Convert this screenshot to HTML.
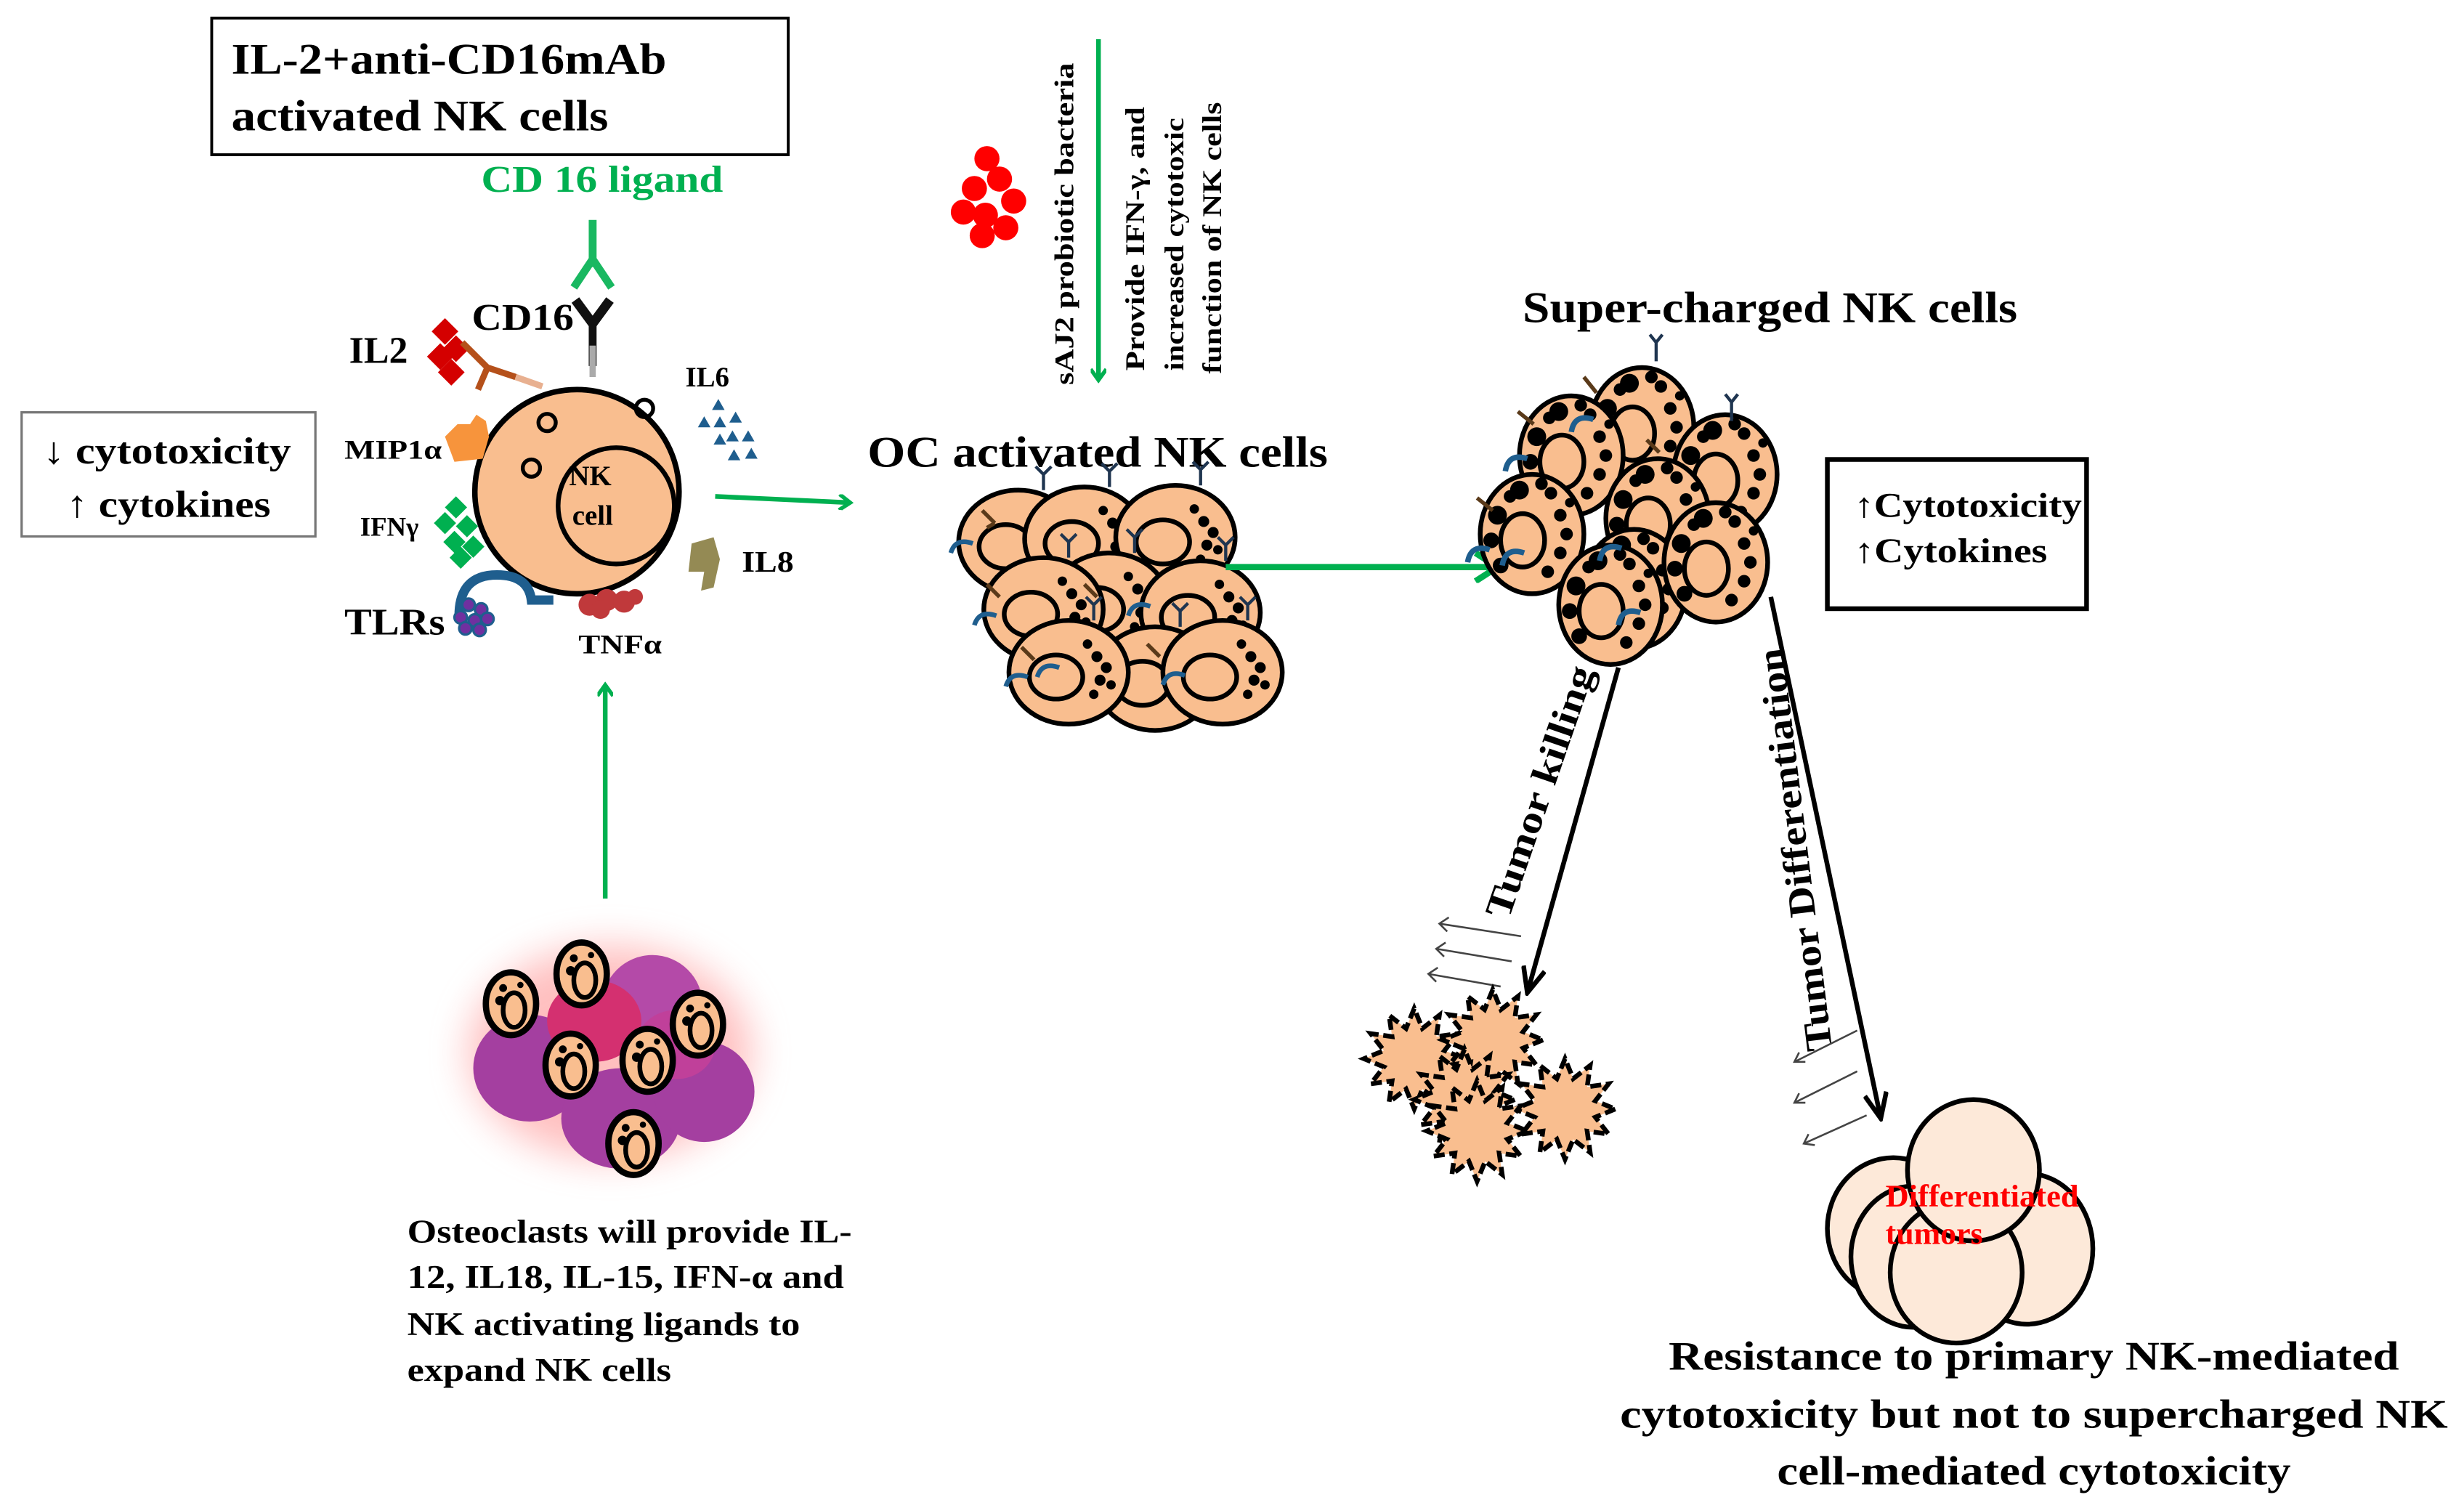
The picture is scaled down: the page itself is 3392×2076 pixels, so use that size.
<!DOCTYPE html>
<html><head><meta charset="utf-8"><style>
html,body{margin:0;padding:0;background:#fff;}
svg{display:block;}
text{font-family:"Liberation Serif",serif;font-weight:bold;}
</style></head><body>
<svg width="3392" height="2076" viewBox="0 0 1568 960" xmlns="http://www.w3.org/2000/svg">
<defs>
<marker id="ga" markerWidth="10" markerHeight="10" refX="8" refY="5" orient="auto" markerUnits="userSpaceOnUse">
<path d="M1,0 L8,5 L1,10" fill="none" stroke="#00b050" stroke-width="2.5"/></marker>
<marker id="ga2" markerWidth="20" markerHeight="20" refX="16" refY="10" orient="auto" markerUnits="userSpaceOnUse">
<path d="M2,1 L16,10 L2,19" fill="none" stroke="#00b050" stroke-width="4"/></marker>
<marker id="ba" markerWidth="20" markerHeight="16" refX="18" refY="8" orient="auto" markerUnits="userSpaceOnUse">
<path d="M2,1 L18,8 L2,15" fill="none" stroke="#000" stroke-width="3"/></marker>
<filter id="blur" x="-50%" y="-50%" width="200%" height="200%"><feGaussianBlur stdDeviation="12"/></filter>
<g id="oc">
<ellipse cx="0" cy="0" rx="38" ry="33" fill="#f9be8f" stroke="#000" stroke-width="3"/>
<ellipse cx="-8" cy="3" rx="17" ry="14" fill="none" stroke="#000" stroke-width="3"/>
<circle cx="18" cy="-10" r="3.5"/><circle cx="24" cy="-3" r="3.5"/><circle cx="20" cy="5" r="3.5"/><circle cx="27" cy="8" r="3"/><circle cx="16" cy="14" r="3"/><circle cx="12" cy="-18" r="3"/>
<path d="M16,-33 v-10 M16,-43 l-5,-5 M16,-43 l5,-5" stroke="#1f3550" stroke-width="2" fill="none"/>
</g>
<g id="sc">
<ellipse cx="0" cy="0" rx="33" ry="38" fill="#f9be8f" stroke="#000" stroke-width="3"/>
<ellipse cx="-6" cy="4" rx="14" ry="17" fill="#f9be8f" stroke="#000" stroke-width="3"/>
<circle cx="-22" cy="-12" r="6"/><circle cx="-8" cy="-28" r="6"/><circle cx="12" cy="-26" r="4"/><circle cx="18" cy="-12" r="4"/><circle cx="22" cy="0" r="4"/><circle cx="18" cy="12" r="4"/><circle cx="24" cy="-20" r="3"/><circle cx="10" cy="24" r="4"/><circle cx="-20" cy="20" r="5"/><circle cx="-26" cy="4" r="5"/><circle cx="-14" cy="-24" r="4"/><circle cx="6" cy="-32" r="4"/>
</g>
<polygon id="star" points="32,0 19.3,5.2 27.7,16 14.1,14.1 16,27.7 5.2,19.3 0,32 -5.2,19.3 -16,27.7 -14.1,14.1 -27.7,16 -19.3,5.2 -32,0 -19.3,-5.2 -27.7,-16 -14.1,-14.1 -16,-27.7 -5.2,-19.3 0,-32 5.2,-19.3 16,-27.7 14.1,-14.1 27.7,-16 19.3,-5.2" fill="#f9be8f" stroke="#000" stroke-width="3" stroke-dasharray="7 3"/>
<g id="osc">
<ellipse cx="0" cy="0" rx="16" ry="20" fill="#f9be8f" stroke="#000" stroke-width="4"/>
<ellipse cx="2" cy="4" rx="7" ry="11" fill="none" stroke="#000" stroke-width="3"/>
<circle cx="-7" cy="-2" r="3"/><circle cx="-5" cy="-10" r="2.5"/><circle cx="6" cy="-12" r="2"/>
</g>
</defs>

<!-- top box -->
<rect x="134.5" y="11.5" width="367" height="87" fill="#fff" stroke="#000" stroke-width="1.8"/>
<text x="147" y="47" font-size="28" textLength="277" lengthAdjust="spacingAndGlyphs">IL-2+anti-CD16mAb</text>
<text x="147" y="83" font-size="28" textLength="240" lengthAdjust="spacingAndGlyphs">activated NK cells</text>
<text x="306" y="122" font-size="24" fill="#00b050" textLength="154" lengthAdjust="spacingAndGlyphs">CD 16 ligand</text>
<!-- CD16 ligand receptor -->
<path d="M377,140 v30 M377,165 l-12,18 M377,165 l12,18" stroke="#00b050" stroke-width="5" fill="none" opacity="0.9"/>
<path d="M377,203 v30" stroke="#111" stroke-width="5"/>
<path d="M377,206 l-11,-15 M377,206 l11,-15" stroke="#111" stroke-width="6"/>
<line x1="377" y1="220" x2="377" y2="240" stroke="#aaa" stroke-width="4"/>
<text x="300" y="210" font-size="24" textLength="65" lengthAdjust="spacingAndGlyphs">CD16</text>
<text x="222" y="231" font-size="24">IL2</text>
<!-- IL2 -->
<g fill="#d40000">
<rect x="277" y="205" width="12" height="12" transform="rotate(45 283 211)"/>
<rect x="284" y="216" width="12" height="12" transform="rotate(45 290 222)"/>
<rect x="274" y="221" width="12" height="12" transform="rotate(45 280 227)"/>
<rect x="281" y="231" width="12" height="12" transform="rotate(45 287 237)"/>
</g>
<path d="M294,218 L310,234 L328,240 M310,234 L304,248" stroke="#b5501a" stroke-width="4" fill="none"/>
<line x1="328" y1="240" x2="345" y2="246" stroke="#e8b090" stroke-width="4"/>
<!-- left box -->
<rect x="13.5" y="262.5" width="187" height="79" fill="#fff" stroke="#777" stroke-width="1.5"/>
<text x="27" y="295" font-size="24" textLength="158" lengthAdjust="spacingAndGlyphs">↓ cytotoxicity</text>
<text x="42" y="329" font-size="24" textLength="130" lengthAdjust="spacingAndGlyphs">↑ cytokines</text>
<!-- NK cell -->
<circle cx="367" cy="313" r="65" fill="#f9be8f" stroke="#000" stroke-width="3.5"/>
<circle cx="392" cy="322" r="37" fill="none" stroke="#000" stroke-width="3"/>
<circle cx="348" cy="269" r="5.5" fill="none" stroke="#000" stroke-width="2.5"/>
<circle cx="410" cy="260" r="5.5" fill="none" stroke="#000" stroke-width="2.5"/>
<circle cx="338" cy="298" r="5.5" fill="none" stroke="#000" stroke-width="2.5"/>
<text x="362" y="309" font-size="18">NK</text>
<text x="364" y="334" font-size="18">cell</text>
<text x="436" y="246" font-size="18">IL6</text>
<g fill="#1f5e8e">
<path d="M457,254 l4,7 h-8z M448,265 l4,7 h-8z M458,265 l4,7 h-8z M468,262 l4,7 h-8z M466,274 l4,7 h-8z M476,274 l4,7 h-8z M458,276 l4,7 h-8z M467,286 l4,7 h-8z M478,285 l4,7 h-8z"/>
</g>
<text x="219" y="292" font-size="17" textLength="62" lengthAdjust="spacingAndGlyphs">MIP1α</text>
<path d="M283,278 l8,-8 l8,0 l4,-6 l6,4 l2,10 l-4,14 l-18,2 z" fill="#f7943c"/>
<text x="229" y="341" font-size="17">IFNγ</text>
<g fill="#00b050">
<rect x="285" y="318" width="10" height="10" transform="rotate(45 290 323)"/>
<rect x="278" y="328" width="10" height="10" transform="rotate(45 283 333)"/>
<rect x="292" y="330" width="10" height="10" transform="rotate(45 297 335)"/>
<rect x="284" y="340" width="10" height="10" transform="rotate(45 289 345)"/>
<rect x="296" y="343" width="10" height="10" transform="rotate(45 301 348)"/>
<rect x="288" y="350" width="10" height="10" transform="rotate(45 293 355)"/>
</g>
<text x="472" y="364" font-size="19" textLength="33" lengthAdjust="spacingAndGlyphs">IL8</text>
<path d="M440,346 l14,-4 l4,14 l-4,18 l-8,2 l2,-12 l-10,0 z" fill="#948a54"/>
<!-- TLRs -->
<path d="M292,392 q0,-26 24,-26 q20,0 22,16 h14" stroke="#1f5e8e" stroke-width="6" fill="none"/>
<g fill="#7030a0" stroke="#1f5e8e" stroke-width="1.5">
<circle cx="298" cy="385" r="4"/><circle cx="306" cy="388" r="4"/><circle cx="293" cy="393" r="4"/><circle cx="302" cy="395" r="4"/><circle cx="310" cy="394" r="4"/><circle cx="296" cy="400" r="4"/><circle cx="305" cy="401" r="4"/>
</g>
<text x="219" y="404" font-size="24" textLength="64" lengthAdjust="spacingAndGlyphs">TLRs</text>
<g fill="#c0393b"><circle cx="375" cy="385" r="7"/><circle cx="386" cy="382" r="7"/><circle cx="397" cy="383" r="7"/><circle cx="404" cy="380" r="5"/><circle cx="382" cy="388" r="6"/></g>
<text x="368" y="416" font-size="17" textLength="53" lengthAdjust="spacingAndGlyphs">TNFα</text>
<!-- green arrows near NK -->
<line x1="455" y1="316" x2="541" y2="320" stroke="#00b050" stroke-width="3" marker-end="url(#ga)"/>
<line x1="385" y1="572" x2="385" y2="436" stroke="#00b050" stroke-width="3" marker-end="url(#ga)"/>
<!-- osteoclasts -->
<ellipse cx="388" cy="670" rx="90" ry="68" fill="#ff8c8c" opacity="0.55" filter="url(#blur)"/>
<g fill="#a43fa0">
<ellipse cx="337" cy="680" rx="36" ry="34"/>
<ellipse cx="415" cy="640" rx="32" ry="32" fill="#b44aa8"/>
<ellipse cx="378" cy="650" rx="30" ry="26" fill="#d43070"/>
<ellipse cx="395" cy="712" rx="38" ry="32"/>
<ellipse cx="448" cy="695" rx="32" ry="32"/>
<ellipse cx="430" cy="665" rx="25" ry="22" fill="#c0409a"/>
</g>
<use href="#osc" x="325" y="639"/>
<use href="#osc" x="370" y="620"/>
<use href="#osc" x="444" y="652"/>
<use href="#osc" x="363" y="678"/>
<use href="#osc" x="412" y="675"/>
<use href="#osc" x="403" y="728"/>
<text font-size="21" lengthAdjust="spacingAndGlyphs" x="259" y="791" textLength="283">Osteoclasts will provide IL-</text>
<text font-size="21" lengthAdjust="spacingAndGlyphs" x="259" y="820" textLength="278">12, IL18, IL-15, IFN-α and</text>
<text font-size="21" lengthAdjust="spacingAndGlyphs" x="259" y="850" textLength="250">NK activating ligands to</text>
<text font-size="21" lengthAdjust="spacingAndGlyphs" x="259" y="879" textLength="168">expand NK cells</text>
<!-- bacteria -->
<g fill="#ff0000"><circle cx="628" cy="101" r="8"/><circle cx="636" cy="114" r="8"/><circle cx="620" cy="120" r="8"/><circle cx="645" cy="128" r="8"/><circle cx="613" cy="135" r="8"/><circle cx="627" cy="137" r="8"/><circle cx="625" cy="150" r="8"/><circle cx="640" cy="145" r="8"/></g>
<line x1="699" y1="25" x2="699" y2="242" stroke="#00b050" stroke-width="3" marker-end="url(#ga)"/>
<text font-size="17" transform="translate(683,245) rotate(-90)" textLength="205" lengthAdjust="spacingAndGlyphs">sAJ2 probiotic bacteria</text>
<text font-size="17" transform="translate(728,236) rotate(-90)" textLength="168" lengthAdjust="spacingAndGlyphs">Provide IFN-γ, and</text>
<text font-size="17" transform="translate(753,236) rotate(-90)" textLength="161" lengthAdjust="spacingAndGlyphs">increased cytotoxic</text>
<text font-size="17" transform="translate(777,238) rotate(-90)" textLength="173" lengthAdjust="spacingAndGlyphs">function of NK cells</text>
<!-- OC activated -->
<text x="552" y="297" font-size="28" textLength="293" lengthAdjust="spacingAndGlyphs">OC activated NK cells</text>
<use href="#oc" x="648" y="345"/>
<use href="#oc" x="690" y="343"/>
<use href="#oc" x="748" y="342"/>
<use href="#oc" x="706" y="385"/>
<use href="#oc" x="664" y="388"/>
<use href="#oc" x="764" y="390"/>
<use href="#oc" x="735" y="432"/>
<use href="#oc" x="680" y="428"/>
<use href="#oc" x="778" y="428"/>
<g stroke="#1f5e8e" stroke-width="3" fill="none">
<path d="M605,352 q3,-10 14,-6"/><path d="M620,398 q3,-10 14,-6"/><path d="M640,437 q3,-10 14,-6"/><path d="M660,431 q3,-10 14,-6"/><path d="M740,436 q3,-10 14,-6"/><path d="M718,392 q3,-10 14,-6"/>
</g>
<g stroke="#5a3a1a" stroke-width="2.5" fill="none">
<path d="M625,325 l8,8 M628,336 l5,-3"/><path d="M628,372 l8,8"/><path d="M690,372 l8,8"/><path d="M730,410 l8,8"/><path d="M650,412 l8,8"/>
</g>
<line x1="780" y1="361" x2="953" y2="361" stroke="#00b050" stroke-width="4" marker-end="url(#ga2)"/>
<!-- supercharged -->
<text x="969" y="205" font-size="28" textLength="315" lengthAdjust="spacingAndGlyphs">Super-charged NK cells</text>
<use href="#sc" x="1045" y="272"/>
<use href="#sc" x="1000" y="290"/>
<use href="#sc" x="1098" y="302"/>
<use href="#sc" x="1055" y="330"/>
<use href="#sc" x="975" y="340"/>
<use href="#sc" x="1040" y="375"/>
<use href="#sc" x="1092" y="358"/>
<use href="#sc" x="1025" y="385"/>
<g stroke="#1f3550" stroke-width="2" fill="none">
<path d="M1054,230 v-12 M1054,218 l-4,-5 M1054,218 l4,-5"/><path d="M1102,268 v-12 M1102,256 l-4,-5 M1102,256 l4,-5"/>
</g>
<g stroke="#1f5e8e" stroke-width="3.5" fill="none">
<path d="M958,300 q2,-12 14,-8"/><path d="M956,360 q2,-12 14,-8"/><path d="M934,358 q2,-12 14,-8"/><path d="M1030,398 q2,-12 14,-8"/><path d="M1018,357 q2,-12 14,-8"/><path d="M1000,275 q2,-12 14,-8"/>
</g>
<g stroke="#5a3a1a" stroke-width="2.5" fill="none">
<path d="M966,262 l10,8"/><path d="M940,317 l10,8"/><path d="M1008,240 l8,10"/><path d="M1048,280 l8,8"/>
</g>
<!-- right box -->
<rect x="1163" y="292.5" width="165" height="95" fill="#fff" stroke="#000" stroke-width="3"/>
<text x="1180" y="329" font-size="22" textLength="145" lengthAdjust="spacingAndGlyphs">↑Cytotoxicity</text>
<text x="1180" y="358" font-size="22" textLength="123" lengthAdjust="spacingAndGlyphs">↑Cytokines</text>
<!-- black arrows -->
<line x1="1030" y1="425" x2="972" y2="632" stroke="#000" stroke-width="3" marker-end="url(#ba)"/>
<line x1="1127" y1="380" x2="1197" y2="712" stroke="#000" stroke-width="3" marker-end="url(#ba)"/>
<text font-size="24" transform="translate(960,586) rotate(-71)" textLength="168" lengthAdjust="spacingAndGlyphs">Tumor killing</text>
<text font-size="24" transform="translate(1166,668) rotate(-97)" textLength="258" lengthAdjust="spacingAndGlyphs">Tumor Differentiation</text>
<g stroke="#444" stroke-width="1.2" fill="none">
<path d="M968,596 l-52,-8 m6,-4 l-6,4 l5,5"/><path d="M962,612 l-48,-8 m6,-4 l-6,4 l5,5"/><path d="M955,628 l-46,-8 m6,-4 l-6,4 l5,5"/>
<path d="M1182,656 l-40,20 m7,0 l-7,0 l3,-6"/><path d="M1182,682 l-40,20 m7,0 l-7,0 l3,-6"/><path d="M1188,710 l-40,18 m7,1 l-7,-1 l3,-6"/>
</g>
<!-- killed tumors -->
<use href="#star" transform="translate(900,674)"/>
<use href="#star" transform="translate(950,662)"/>
<use href="#star" transform="translate(932,700)"/>
<use href="#star" transform="translate(996,706)"/>
<use href="#star" transform="translate(940,720)"/>
<!-- differentiated tumors -->
<g fill="#fde9d9" stroke="#000" stroke-width="3">
<ellipse cx="1205" cy="782" rx="42" ry="45"/>
<ellipse cx="1218" cy="800" rx="40" ry="45"/>
<ellipse cx="1290" cy="795" rx="42" ry="48"/>
<ellipse cx="1245" cy="810" rx="42" ry="45"/>
<ellipse cx="1256" cy="745" rx="42" ry="45"/>
</g>
<text font-size="20" fill="#ff0000" x="1200" y="768" textLength="123" lengthAdjust="spacingAndGlyphs">Differentiated</text>
<text font-size="20" fill="#ff0000" x="1200" y="792" textLength="62" lengthAdjust="spacingAndGlyphs">tumors</text>
<!-- bottom text -->
<text font-size="26" x="1062" y="872" textLength="465" lengthAdjust="spacingAndGlyphs">Resistance to primary  NK-mediated</text>
<text font-size="26" x="1031" y="909" textLength="527" lengthAdjust="spacingAndGlyphs">cytotoxicity but  not to supercharged NK</text>
<text font-size="26" x="1131" y="945" textLength="327" lengthAdjust="spacingAndGlyphs">cell-mediated cytotoxicity</text>
</svg>
</body></html>
